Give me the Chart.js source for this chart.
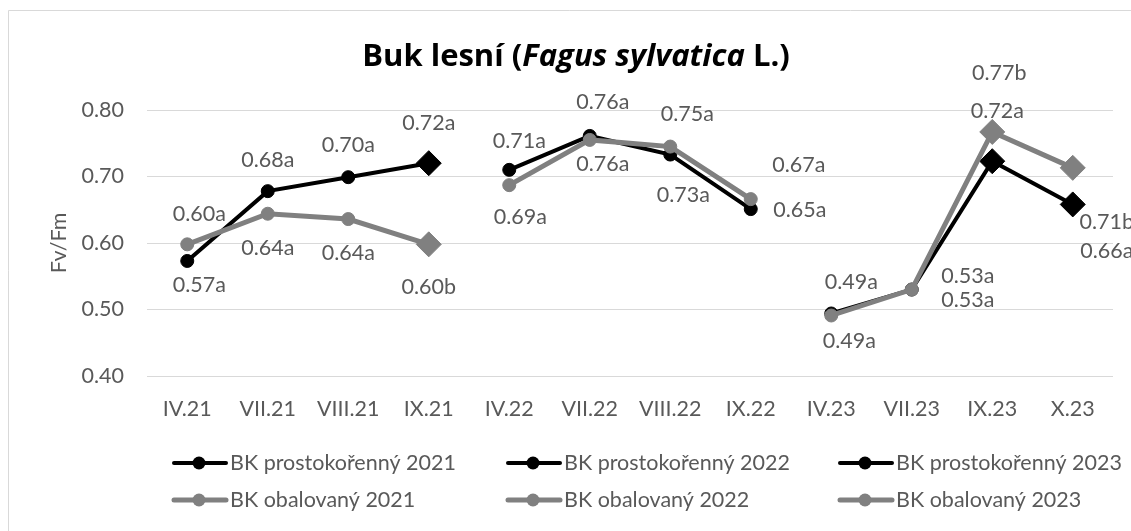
<!DOCTYPE html>
<html>
<head>
<meta charset="utf-8">
<script src="https://cdn.jsdelivr.net/npm/chart.js@4.4.0/dist/chart.umd.min.js"></script>
<style>
  html, body { margin: 0; padding: 0; background: #fff; }
  #wrap { width: 1131px; height: 531px; position: relative; }
</style>
</head>
<body>
<div id="wrap"><canvas id="myChart" width="1131" height="531"></canvas></div>
<script>
// categories (x axis)
var months = ['IV.21', 'VII.21', 'VIII.21', 'IX.21', 'IV.22', 'VII.22', 'VIII.22', 'IX.22', 'IV.23', 'VII.23', 'IX.23', 'X.23'];
var cats2021 = ['IV.21', 'VII.21', 'VIII.21', 'IX.21'];
var cats2022 = ['IV.22', 'VII.22', 'VIII.22', 'IX.22'];
var cats2023 = ['IV.23', 'VII.23', 'IX.23', 'X.23'];

// Fv/Fm values
var bk2021 = [0.573, 0.678, 0.699, 0.720];
var bk2022 = [0.710, 0.761, 0.733, 0.651];
var bk2023 = [0.494, 0.530, 0.723, 0.658];
var ob2021 = [0.598, 0.644, 0.636, 0.598];
var ob2022 = [0.687, 0.755, 0.745, 0.666];
var ob2023 = [0.491, 0.530, 0.767, 0.713];

// data label texts
var bk2021Txt = ['0.57a', '0.68a', '0.70a', '0.72a'];
var bk2022Txt = ['0.71a', '0.76a', '0.73a', '0.65a'];
var bk2023Txt = ['0.49a', '0.53a', '0.72a', '0.66a'];
var ob2021Txt = ['0.60a', '0.64a', '0.64a', '0.60b'];
var ob2022Txt = ['0.69a', '0.76a', '0.75a', '0.67a'];
var ob2023Txt = ['0.49a', '0.53a', '0.77b', '0.71b'];

// y ticks
var yMin = 0.4, yMax = 0.8, yStep = 0.1;

// label offsets from the point [dx, dy]
var bk2021Pos = [[12, 24], [0, -31], [0, -32], [0, -40]];
var bk2022Pos = [[10, -29], [13, -34], [13, 41], [49, 1]];
var bk2023Pos = [[20, -31], [56, -13], [5, -50], [34, 47]];
var ob2021Pos = [[12, -30], [0, 34], [0, 34], [0, 43]];
var ob2022Pos = [[11, 32], [13, 24], [17, -33], [48, -34]];
var ob2023Pos = [[18, 26], [56, 11], [7, -59], [34, 54]];

var FONT = "Lato, 'Open Sans', sans-serif";
var FS = 21.5;
var TXT = '#595959';
var BLACK = '#000000';
var GRAY = '#808080';

function pts(cats, vals) {
    return cats.map(function (c, i) { return { x: c, y: vals[i] }; });
}

function series(label, cats, vals, txt, pos, color, width, shapes, order) {
    return {
        label: label,
        data: pts(cats, vals),
        txt: txt,
        pos: pos,
        borderColor: color,
        backgroundColor: color,
        borderWidth: width,
        pointBackgroundColor: color,
        pointBorderColor: color,
        pointBorderWidth: 1,
        pointStyle: shapes,
        pointRadius: shapes.map(function (s) { return s === 'rectRot' ? 12.5 : 6.5; }),
        tension: 0,
        order: order,
    };
}

var round = ['circle', 'circle', 'circle', 'circle'];
var last1 = ['circle', 'circle', 'circle', 'rectRot'];
var last2 = ['circle', 'circle', 'rectRot', 'rectRot'];

var datasets = [
    series('BK prostokořenný 2021', cats2021, bk2021, bk2021Txt, bk2021Pos, BLACK, 4, last1, 1),
    series('BK prostokořenný 2022', cats2022, bk2022, bk2022Txt, bk2022Pos, BLACK, 4, round, 1),
    series('BK prostokořenný 2023', cats2023, bk2023, bk2023Txt, bk2023Pos, BLACK, 4, last2, 1),
    series('BK obalovaný 2021', cats2021, ob2021, ob2021Txt, ob2021Pos, GRAY, 5, last1, 0),
    series('BK obalovaný 2022', cats2022, ob2022, ob2022Txt, ob2022Pos, GRAY, 5, round, 0),
    series('BK obalovaný 2023', cats2023, ob2023, ob2023Txt, ob2023Pos, GRAY, 5, last2, 0),
];

// frame, title, axis title, legend
var framePlugin = {
    id: 'frame',
    beforeDraw: function (chart) {
        var c = chart.ctx;
        c.save();
        c.fillStyle = '#fff';
        c.fillRect(0, 0, chart.width, chart.height);
        c.strokeStyle = '#d9d9d9';
        c.lineWidth = 1;
        c.beginPath();
        c.moveTo(8.5, chart.height);
        c.lineTo(8.5, 10.5);
        c.lineTo(chart.width, 10.5);
        c.stroke();
        c.restore();
    },
    afterDraw: function (chart) {
        var c = chart.ctx;
        var tf = "'Open Sans', sans-serif";
        var parts = [
            ['Buk lesní (', 'bold 31px ' + tf],
            ['Fagus sylvatica', 'italic bold 31px ' + tf],
            [' L.)', 'bold 31px ' + tf],
        ];
        c.save();
        c.fillStyle = '#000';
        c.textBaseline = 'alphabetic';
        c.textAlign = 'left';
        var total = 0;
        parts.forEach(function (p) { c.font = p[1]; total += c.measureText(p[0]).width; });
        var x = 576 - total / 2;
        parts.forEach(function (p) {
            c.font = p[1];
            c.fillText(p[0], x, 66);
            x += c.measureText(p[0]).width;
        });

        // y axis title
        var ca = chart.chartArea;
        c.font = FS + 'px ' + FONT;
        c.fillStyle = TXT;
        c.textAlign = 'center';
        c.textBaseline = 'middle';
        c.save();
        c.translate(59, (ca.top + ca.bottom) / 2);
        c.rotate(-Math.PI / 2);
        c.fillText('Fv/Fm', 0, 0);
        c.restore();

        // legend, 3 columns x 2 rows
        var colX = [172, 506, 838];
        var rowY = [463, 500];
        c.textAlign = 'left';
        chart.data.datasets.forEach(function (ds, i) {
            var lx = colX[i % 3], ly = rowY[Math.floor(i / 3)];
            c.strokeStyle = ds.borderColor;
            c.lineWidth = ds.borderWidth;
            c.lineCap = 'round';
            c.beginPath();
            c.moveTo(lx + 2, ly);
            c.lineTo(lx + 54, ly);
            c.stroke();
            c.fillStyle = ds.borderColor;
            c.beginPath();
            c.arc(lx + 27, ly, 6.5, 0, Math.PI * 2);
            c.fill();
            c.fillStyle = TXT;
            c.fillText(ds.label, lx + 58, ly);
        });
        c.restore();
    },
};

// data labels
var labelPlugin = {
    id: 'vals',
    afterDatasetsDraw: function (chart) {
        var c = chart.ctx;
        c.save();
        c.font = FS + 'px ' + FONT;
        c.fillStyle = TXT;
        c.textAlign = 'center';
        c.textBaseline = 'middle';
        chart.data.datasets.forEach(function (ds, i) {
            var meta = chart.getDatasetMeta(i);
            meta.data.forEach(function (el, j) {
                c.fillText(ds.txt[j], el.x + ds.pos[j][0], el.y + ds.pos[j][1]);
            });
        });
        c.restore();
    },
};

var ctx = document.getElementById('myChart').getContext('2d');
var myChart = new Chart(ctx, {
    type: 'line',
    data: {
        labels: months,
        datasets: datasets,
    },
    options: {
        responsive: false,
        animation: false,
        layout: { padding: { top: 110, right: 18, left: 0, bottom: 0 } },
        plugins: {
            legend: { display: false },
            tooltip: { enabled: false },
            title: { display: false },
        },
        scales: {
            x: {
                offset: true,
                grid: { display: false },
                border: { display: false },
                ticks: { color: TXT, font: { family: FONT, size: FS }, padding: 12, maxRotation: 0, autoSkip: false },
                afterFit: function (s) { s.height = 155; },
            },
            y: {
                min: yMin,
                max: yMax,
                grid: { color: '#d9d9d9', lineWidth: 1, drawTicks: false },
                border: { display: false },
                ticks: {
                    stepSize: yStep,
                    color: TXT,
                    font: { family: FONT, size: FS },
                    padding: 23,
                    callback: function (v) { return v.toFixed(2); },
                },
                afterFit: function (s) { s.width = 147; },
            },
        },
    },
    plugins: [framePlugin, labelPlugin],
});
</script>
</body>
</html>
